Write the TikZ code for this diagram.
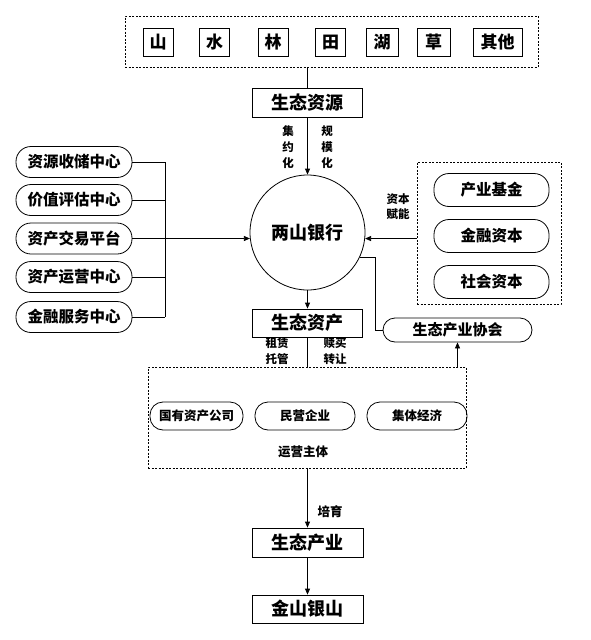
\documentclass[tikz,border=0pt]{standalone}
\usepackage{fontspec}
\setmainfont{Noto Sans CJK SC}
\usetikzlibrary{arrows.meta}
\newcommand{\fs}[1]{\fontsize{#1}{#1}\selectfont}
\begin{document}
\begin{tikzpicture}[x=1pt,y=-1pt,
  line width=0.8pt,
  box/.style={draw, rectangle, inner sep=0pt, minimum width=110pt, minimum height=29pt, font=\bfseries\fs{18}},
  sbox/.style={draw, rectangle, inner sep=0pt, minimum width=30pt, minimum height=28pt, font=\bfseries\fs{17}},
  pill/.style={draw, rectangle, rounded corners=15pt, inner sep=0pt, minimum width=116pt, minimum height=31pt, font=\bfseries\fs{15.5}},
  ipill/.style={draw, rectangle, rounded corners=13pt, inner sep=0pt, minimum width=100pt, minimum height=28pt, font=\bfseries\fs{12.5}},
  dbox/.style={draw, rectangle, dash pattern=on 2pt off 1.5pt, inner sep=0pt},
  lbl/.style={font=\bfseries\fs{11.5}, align=center, inner sep=0pt},
  arr/.style={-{Triangle[length=6pt,width=5pt]}}]
\useasboundingbox (0,0) rectangle (590,640);
% top group
\node[dbox, minimum width=413pt, minimum height=51pt] (top) at (331.5,41.5) {};
\node[sbox] (s1) at (158,42) {山};
\node[sbox] (s2) at (214.5,42) {水};
\node[sbox] (s3) at (273,42) {林};
\node[sbox] (s4) at (330.5,42) {田};
\node[sbox, minimum width=32pt] (s5) at (382,42) {湖};
\node[sbox, minimum width=33pt] (s6) at (433.5,42) {草};
\node[sbox, minimum width=49pt] (s7) at (497.5,42) {其他};
\node[box] (res) at (307.5,102.5) {生态资源};
\draw (top.south -| res.north) -- (res.north);
% bank
\node[draw, circle, inner sep=0pt, minimum size=115pt, font=\bfseries\fs{18}] (bank) at (307.5,232.5) {两山银行};
\draw[arr] (res.south) -- (bank.north);
\node[lbl] (j1) at (288,147) {集\\[4.5pt]约\\[4.5pt]化};
\node[lbl] (j2) at (327,147) {规\\[4.5pt]模\\[4.5pt]化};
% left
\node[pill] (l1) at (74,162) {资源收储中心};
\node[pill] (l2) at (74,200) {价值评估中心};
\node[pill] (l3) at (74,238.5) {资产交易平台};
\node[pill] (l4) at (74,277) {资产运营中心};
\node[pill] (l5) at (74,317) {金融服务中心};
\coordinate (bt) at (165,162);
\coordinate (bb) at (165,317);
\draw (bt) -- (bb);
\draw (l1.east) -- (bt);
\draw (l2.east) -- (l2.east -| bt);
\draw (l4.east) -- (l4.east -| bt);
\draw (l5.east) -- (bb);
\draw[arr] (l3.east) -- (l3.east -| bank.186);
% right
\node[dbox, minimum width=144pt, minimum height=142pt] (rbox) at (489,233) {};
\node[pill, minimum width=115pt, minimum height=33pt] (r1) at (491.5,190) {产业基金};
\node[pill, minimum width=115pt, minimum height=33pt] (r2) at (491.5,236) {金融资本};
\node[pill, minimum width=115pt, minimum height=33pt] (r3) at (491.5,282) {社会资本};
\draw[arr] (rbox.west |- bank.354) -- (bank.354);
\node[lbl] (zb) at (398,207) {资本\\[3.5pt]赋能};
% asset
\node[box, minimum height=28pt] (asset) at (307.5,323) {生态资产};
\draw[arr] (bank.south) -- (asset.north);
\node[pill, minimum width=149pt, minimum height=24pt, rounded corners=12pt, font=\bfseries\fs{15}] (assoc) at (457.5,330) {生态产业协会};
\coordinate (ca) at (375,330);
\draw (bank.334) -- (bank.334 -| ca) -- (ca) -- (assoc.west);
\node[lbl] (zl) at (277,351) {租赁\\[4.5pt]托管};
\node[lbl] (sl) at (335,351) {赎买\\[4.5pt]转让};
% operators
\node[dbox, minimum width=318pt, minimum height=101pt] (op) at (307,417.5) {};
\draw (asset.south) -- (asset.south |- op.north);
\draw[arr] (op.north -| assoc.south) -- (assoc.south);
\node[ipill, minimum width=93pt] (o1) at (196.5,416) {国有资产公司};
\node[ipill] (o2) at (305,416) {民营企业};
\node[ipill] (o3) at (417,416) {集体经济};
\node[lbl, font=\bfseries\fs{12.5}] (yy) at (303,452) {运营主体};
% bottom
\node[box, minimum width=111pt] (ind) at (307.5,542.5) {生态产业};
\node[box, minimum width=111pt, minimum height=28pt] (gold) at (307.5,609) {金山银山};
\draw[arr] (op.south -| ind.north) -- (ind.north);
\node[lbl, font=\bfseries\fs{12.5}] (py) at (330,512) {培育};
\draw[arr] (ind.south) -- (gold.north);
\end{tikzpicture}
\end{document}
